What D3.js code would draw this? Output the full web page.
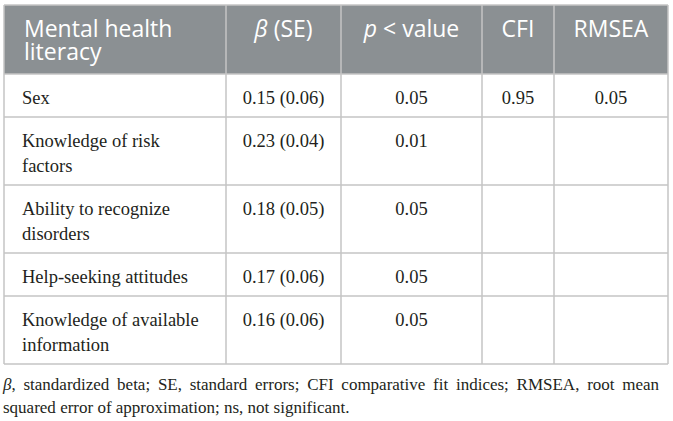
<!DOCTYPE html>
<html>
<head>
<meta charset="utf-8">
<script src="https://cdn.jsdelivr.net/npm/d3@7"></script>
<style>
  html, body { margin: 0; padding: 0; background: #fff; }
  svg { display: block; }
</style>
</head>
<body>
<svg id="tbl" width="673" height="421"></svg>
<script>
// table content
const headers = ["Mental health literacy", "β (SE)", "p < value", "CFI", "RMSEA"];
const italicTokens = ["β", "p"];
const measures = [
    "Sex",
    "Knowledge of risk factors",
    "Ability to recognize disorders",
    "Help-seeking attitudes",
    "Knowledge of available information"
];
const betas = [0.15, 0.23, 0.18, 0.17, 0.16];
const ses = [0.06, 0.04, 0.05, 0.06, 0.06];
const pValues = [0.05, 0.01, 0.05, 0.05, 0.05];
const cfiValues = [0.95, null, null, null, null];
const rmseaValues = [0.05, null, null, null, null];
const note = "β, standardized beta; SE, standard errors; CFI comparative fit indices; RMSEA, root mean squared error of approximation; ns, not significant.";

// layout
let colEdges = [4, 226, 341, 482, 554, 668];
let tableTop = 5;
let headFont = "'Open Sans', 'Noto Sans', sans-serif";
let bodyFont = "'Liberation Serif', 'DejaVu Serif', serif";
let headSize = 23, bodySize = 18.5, noteSize = 17;
let lineH = 25, headLineH = 23.5;
let fmt = d3.format(".2f");

let svg = d3.select("#tbl");
let measureG = svg.append("g");

function wrap(text, maxW, font, size) {
    let t = measureG.append("text").style("font-family", font).style("font-size", size + "px");
    let words = text.split(" ");
    let lines = [];
    let cur = "";
    words.forEach((w) => {
        let test = cur ? cur + " " + w : w;
        t.text(test);
        if (t.node().getComputedTextLength() > maxW && cur) {
            lines.push(cur);
            cur = w;
        } else {
            cur = test;
        }
    });
    lines.push(cur);
    t.remove();
    return lines;
}

function textWidth(text, font, size) {
    let t = measureG.append("text").style("font-family", font).style("font-size", size + "px").text(text);
    let w = t.node().getComputedTextLength();
    t.remove();
    return w;
}

let rows = measures.map((m, i) => {
    return {
        label: wrap(m, 185, bodyFont, bodySize),
        cells: [
            fmt(betas[i]) + " (" + fmt(ses[i]) + ")",
            fmt(pValues[i]),
            cfiValues[i] == null ? "" : fmt(cfiValues[i]),
            rmseaValues[i] == null ? "" : fmt(rmseaValues[i])
        ]
    };
});

let headLines = wrap(headers[0], 195, headFont, headSize);
let headH = 22 + headLineH * headLines.length;

// row boundaries
let rowTops = [];
let y = tableTop + headH;
rows.forEach((r) => {
    rowTops.push(y);
    r.top = y;
    r.h = 18 + lineH * r.label.length;
    y += r.h;
});
let bottom = y;

let colCenter = (j) => (colEdges[j] + colEdges[j + 1]) / 2;

// header background
svg.append("rect")
    .attr("x", colEdges[0]).attr("y", tableTop)
    .attr("width", colEdges[5] - colEdges[0]).attr("height", headH)
    .attr("fill", "#8b9093");

// grid lines
let grid = svg.append("g").attr("stroke", "#c4c4c4").attr("stroke-width", 1.5);
grid.selectAll("line.h")
    .data([tableTop, tableTop + headH].concat(rowTops.slice(1)).concat([bottom]))
    .enter().append("line")
      .attr("x1", colEdges[0]).attr("x2", colEdges[5])
      .attr("y1", d => d).attr("y2", d => d);
grid.selectAll("line.v")
    .data(colEdges)
    .enter().append("line")
      .attr("x1", d => d).attr("x2", d => d)
      .attr("y1", tableTop).attr("y2", bottom);

// header text
let head = svg.append("g").attr("fill", "#ffffff")
    .style("font-family", headFont).style("font-size", headSize + "px");
headers.forEach((h, j) => {
    let lines = j === 0 ? headLines : [h];
    lines.forEach((ln, k) => {
        let t = head.append("text")
            .attr("x", j === 0 ? colEdges[0] + 20 : colCenter(j))
            .attr("y", tableTop + 31.5 + k * headLineH)
            .attr("text-anchor", j === 0 ? "start" : "middle");
        ln.split(/(\s+)/).forEach((part) => {
            t.append("tspan")
                .style("font-style", italicTokens.includes(part) ? "italic" : "normal")
                .text(part);
        });
    });
});

// body text
let body = svg.append("g").attr("fill", "#231f20")
    .style("font-family", bodyFont).style("font-size", bodySize + "px");
rows.forEach((r) => {
    r.label.forEach((ln, k) => {
        body.append("text")
            .attr("x", colEdges[0] + 18)
            .attr("y", r.top + 29.5 + k * lineH)
            .text(ln);
    });
    r.cells.forEach((c, j) => {
        body.append("text")
            .attr("x", colCenter(j + 1))
            .attr("y", r.top + 29.5)
            .attr("text-anchor", "middle")
            .text(c);
    });
});

// footnote, justified
let noteW = 656;
let noteLines = wrap(note, noteW, bodyFont, noteSize);
let foot = svg.append("g").attr("fill", "#231f20")
    .style("font-family", bodyFont).style("font-size", noteSize + "px");
noteLines.forEach((ln, k) => {
    let t = foot.append("text")
        .attr("x", 3)
        .attr("y", bottom + 26 + k * 23);
    ln.split(/(\s+)/).forEach((part) => {
        if (part.startsWith("β")) {
            t.append("tspan").style("font-style", "italic").text("β");
            t.append("tspan").text(part.slice(1));
        } else {
            t.append("tspan").text(part);
        }
    });
    if (k < noteLines.length - 1) {
        let gaps = ln.split(" ").length - 1;
        let extra = noteW - textWidth(ln, bodyFont, noteSize);
        if (gaps > 0 && extra > 0) t.attr("word-spacing", extra / gaps);
    }
});
</script>
</body>
</html>
